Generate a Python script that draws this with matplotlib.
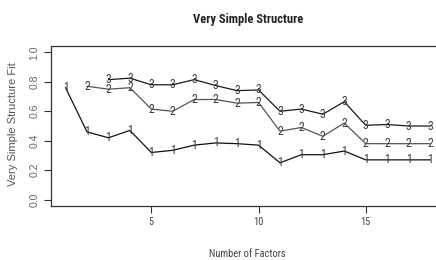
import matplotlib
matplotlib.use('Agg')
import matplotlib.pyplot as plt
from matplotlib import font_manager

# Very Simple Structure fit, complexity 1..3
factors = list(range(1, 19))
fit_c1 = [0.76, 0.46, 0.42, 0.47, 0.32, 0.335, 0.37, 0.385, 0.38, 0.37,
          0.25, 0.305, 0.305, 0.33, 0.27, 0.27, 0.27, 0.27]
fit_c2 = [0.77, 0.75, 0.76, 0.615, 0.60, 0.68, 0.68, 0.655, 0.66,
          0.465, 0.49, 0.43, 0.52, 0.38, 0.38, 0.38, 0.38]
fit_c3 = [0.815, 0.825, 0.78, 0.78, 0.815, 0.775, 0.74, 0.745,
          0.60, 0.615, 0.58, 0.665, 0.505, 0.51, 0.50, 0.50]

xticks = [5, 10, 15]
yticks = [0.0, 0.2, 0.4, 0.6, 0.8, 1.0]

names = {f.name for f in font_manager.fontManager.ttflist}
narrow = 'Liberation Sans'
for cand in ['Liberation Sans Narrow', 'Roboto Condensed', 'Noto Sans Condensed',
             'Open Sans Condensed']:
    if cand in names:
        narrow = cand
        break
is_narrow = narrow != 'Liberation Sans'

fig = plt.figure(figsize=(4.36, 2.6), dpi=100)
ax = fig.add_axes([51 / 436, 54.5 / 260, 393.6 / 436, 159 / 260])

series = [(factors, fit_c1, '1', '#111111'),
          (factors[1:], fit_c2, '2', '#555555'),
          (factors[2:], fit_c3, '3', '#1a1a1a')]
for xs, ys, lab, col in series:
    ax.plot(xs, ys, color=col, lw=0.9)
    for x, y in zip(xs, ys):
        ax.text(x, y, lab, ha='center', va='center', fontsize=8.5,
                color='#3a3a3a', family=narrow)

ax.set_xlim(0.32, 18.68)
ax.set_ylim(-0.04, 1.04)
ax.set_xticks(xticks)
ax.set_xticklabels([str(t) for t in xticks], family=narrow,
                   fontsize=7.5 if is_narrow else 7, color='#444444')
ax.set_yticks(yticks)
ax.set_yticklabels(['%.1f' % t for t in yticks], rotation=90, va='center',
                   family='Liberation Sans', fontsize=7.5, color='#666666')
ax.tick_params(length=5, width=0.8, color='#333333', pad=3.5)
for s in ax.spines.values():
    s.set_color('#333333')
    s.set_linewidth(0.9)

fig.text(13.5 / 436, 1 - 124.5 / 260, 'Very Simple Structure Fit', rotation=90,
         ha='center', va='center', fontsize=8, color='#555555',
         family='Liberation Sans')
fig.text(247 / 436, 1 - 254 / 260, 'Number of Factors', ha='center', va='center',
         fontsize=7.5 if is_narrow else 6.5, family=narrow, color='#444444')
fig.text(248 / 436, 1 - 20 / 260, 'Very Simple Structure', ha='center', va='center',
         fontsize=9 if is_narrow else 7.6, weight='bold', family=narrow,
         color='#222222')

fig.savefig('out.png', dpi=100)
